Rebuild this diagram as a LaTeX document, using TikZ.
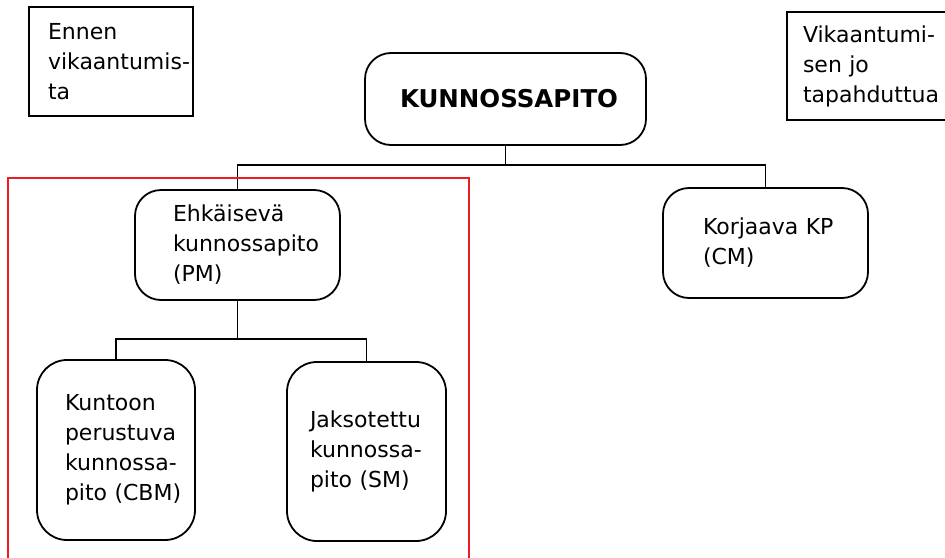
\documentclass[tikz,border=0pt]{standalone}
\usepackage{fontspec}
\setmainfont{DejaVu Sans}
\usepackage{tikz}
\usetikzlibrary{positioning,calc}
\definecolor{paintred}{RGB}{237,28,36}

\begin{document}
\begin{tikzpicture}[x=1pt,y=1pt]
\tikzstyle{every node}+=[inner ysep=0pt,align=left,font=\fontsize{22}{30}\selectfont]
\tikzstyle{plainbox}=[draw,line width=1.8pt]
\tikzstyle{roundbox}=[draw,line width=1.8pt,rounded corners=26pt]
\useasboundingbox (0,0) rectangle (945,-557);
\node [plainbox,minimum width=164,minimum height=109,text width=126,inner xsep=19] (before) at (111,-61.5) {Ennen\\\mbox{vikaantumis-}\\ta};
\node [plainbox,minimum width=175,minimum height=108,text width=143,inner xsep=16] (after) at (874.5,-66) {\mbox{Vikaantumi-}\\sen jo\\\mbox{tapahduttua}};
\node [roundbox,minimum width=281,minimum height=92,text width=211,inner xsep=35,font=\fontsize{24.5}{30}\selectfont\bfseries] (kp) at (505.5,-99) {KUNNOSSAPITO};
\node [roundbox,minimum width=205,minimum height=110,text width=129,inner xsep=38] (pm) at (237.5,-245) {Ehkäisevä\\\mbox{kunnossapito}\\(PM)};
\node [roundbox,minimum width=205,minimum height=110,text width=125,inner xsep=40] (cm) at (765.5,-243) {\mbox{Korjaava KP}\\(CM)};
\node [roundbox,rounded corners=30pt,minimum width=158,minimum height=180,text width=102,inner xsep=28] (cbm) at (116,-450) {Kuntoon\\perustuva\\\mbox{kunnossa-}\\\mbox{pito (CBM)}};
\node [roundbox,rounded corners=30pt,minimum width=159,minimum height=179,text width=113,inner xsep=23] (sm) at (366.5,-451.5) {Jaksotettu\\\mbox{kunnossa-}\\\mbox{pito (SM)}};
\draw [line width=1.8pt] (kp.south) -- ++(0,-19) coordinate (kpfork);
\draw [line width=1.8pt] (pm.north) |- (kpfork) -| (cm.north);
\draw [line width=1.8pt] (pm.south) -- ++(0,-38) coordinate (pmfork);
\draw [line width=1.8pt] (cbm.north) |- (pmfork) -| (sm.north);
\draw [paintred,line width=1.8pt] (8,-178) rectangle (469,-575);
\end{tikzpicture}
\end{document}
